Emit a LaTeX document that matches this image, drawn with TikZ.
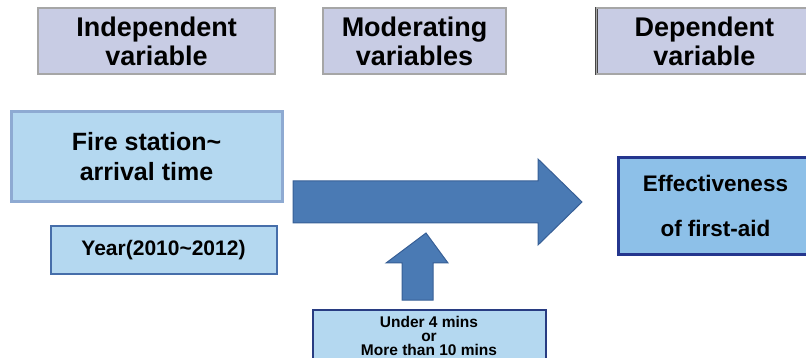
\documentclass[tikz,border=0pt]{standalone}
\usepackage{fontspec}
\setmainfont{Liberation Sans}
\definecolor{headfill}{RGB}{200,204,228}
\definecolor{headline}{RGB}{70,70,70}
\definecolor{lightfill}{RGB}{180,216,240}
\definecolor{paleline}{RGB}{142,170,210}
\definecolor{midline}{RGB}{70,110,170}
\definecolor{arrowfill}{RGB}{74,122,180}
\definecolor{arrowline}{RGB}{55,95,150}
\definecolor{darkline}{RGB}{40,60,130}
\definecolor{effectfill}{RGB}{141,192,232}
\tikzset{
  headbox/.style={draw=headline, line width=0.9pt, double=gray!70, double distance=1.1pt, fill=headfill,
    inner sep=0pt, align=center, font=\fontsize{27}{29}\selectfont\bfseries},
  bluebox/.style={fill=lightfill, inner sep=0pt, align=center},
  blockarrow/.style={fill=arrowfill, draw=arrowline, line width=1pt}
}
\begin{document}
\begin{tikzpicture}[x=1pt, y=-1pt]
  \useasboundingbox (0,0) rectangle (806,358);

  % header row
  \node[headbox, minimum width=237, minimum height=66] (indep) at (156.5,41) {Independent\\variable};
  \node[headbox, minimum width=183, minimum height=66] (moder) at (414.5,41) {Moderating\\variables};
  \node[headbox, minimum width=216, minimum height=66, anchor=west] (dep) at (596,41) {Dependent\\variable};

  % left boxes
  \node[bluebox, draw=paleline, line width=3pt, minimum width=271, minimum height=90,
    font=\fontsize{25}{30}\selectfont\bfseries] (fire) at (146.5,156.5) {Fire station\textasciitilde\\arrival time};
  \node[bluebox, draw=midline, line width=2pt, minimum width=226, minimum height=47,
    font=\fontsize{21}{24}\selectfont\bfseries] (year) at (163.5,250) {Year(2010\textasciitilde 2012)};

  % right box
  \node[bluebox, fill=effectfill, draw=darkline!90!blue, line width=3pt, minimum width=194, minimum height=97,
    anchor=west, font=\fontsize{22.5}{45}\selectfont\bfseries] (effect) at (617,206) {Effectiveness\\of first-aid};

  % bottom box
  \node[bluebox, draw=darkline, line width=2pt, minimum width=233, minimum height=52, anchor=north,
    font=\fontsize{15.5}{14}\selectfont\bfseries] (cond) at (429,308.5) {Under 4 mins\\or\\More than 10 mins};

  % block arrows
  \draw[blockarrow] (293,181) -- (538,181) -- (538,159) -- (582,202) -- (538,245)
    -- (538,223) -- (293,223) -- cycle;
  \draw[blockarrow] (402,300) -- (402,263) -- (386,263) -- (426,233) -- (448,263)
    -- (433,263) -- (433,300) -- cycle;
\end{tikzpicture}
\end{document}
